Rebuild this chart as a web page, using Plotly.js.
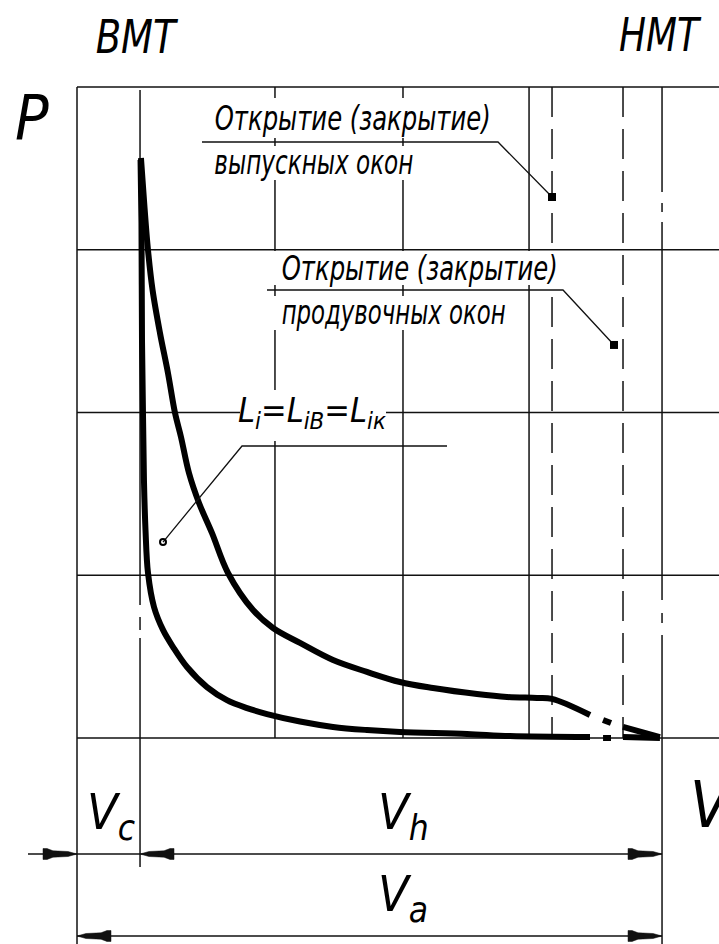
<!DOCTYPE html>
<html><head><meta charset="utf-8">
<script src="https://cdn.plot.ly/plotly-3.0.1.min.js"></script>
<style>html,body{margin:0;padding:0;background:#fff;}#chart{width:719px;height:944px;}</style>
</head><body><div id="chart"></div>
<script>
// ---------------- DATA (V in units of Vh/4, measured from V=0; P in grid units) ----------------
const expansionV = [0.490,0.517,0.544,0.579,0.636,0.697,0.751,0.797,0.858,0.935,1.034,1.157,1.349,1.502,1.709,1.962,2.222,2.475,2.728,3.065,3.295,3.525,3.640,3.931,null,4.031,4.092,null,4.184,4.467];
const expansionP = [3.564,3.263,2.998,2.753,2.488,2.243,1.997,1.849,1.628,1.444,1.260,1.014,0.786,0.676,0.584,0.479,0.406,0.344,0.307,0.270,0.252,0.246,0.240,0.141,null,0.111,0.092,null,0.068,0.006];
const compressionV = [0.487,0.494,0.498,0.506,0.513,0.525,0.544,0.590,0.659,0.736,0.843,0.996,1.149,1.303,1.456,1.709,1.962,2.222,2.475,2.989,3.318,3.931,null,4.031,4.092,null,4.184,4.467];
const compressionP = [3.551,3.164,2.445,1.972,1.585,1.278,1.014,0.805,0.664,0.559,0.436,0.313,0.233,0.184,0.147,0.101,0.068,0.049,0.037,0.025,0.012,0.006,null,0,0,null,0.006,0];

const V_BMT = 0.483;          // top dead centre (Vc)
const V_NMT = 4.483;          // bottom dead centre (Va)
const exhaustPortV = 3.640;   // exhaust ports open/close
const scavengePortV = 4.184;  // scavenge ports open/close
const gridV = [1.517, 2.498, 3.464];
const gridP = [1, 2, 3];
const P_TOP = 4;

const exhaustPoint = {V: 3.640, P: 3.324};
const scavengePoint = {V: 4.115, P: 2.415};
const workPoint = {V: 0.659, P: 1.204};

const labelTop = ["ВМТ", "НМТ"];
const labelExhaust = ["Открытие (закрытие)", "выпускных окон"];
const labelScavenge = ["Открытие (закрытие)", "продувочных окон"];
const labelWork = "L<sub>i</sub>=L<sub>iВ</sub>=L<sub>iк</sub>";
const labelVc = "V<sub>c</sub>", labelVh = "V<sub>h</sub>", labelVa = "V<sub>a</sub>";

// ---------------- LAYOUT GEOMETRY ----------------
const W = 719, H = 944;
const X0 = 77, KX = 130.5;   // pixel of V=0, px per unit
const Y0 = 738, KY = 162.75; // pixel of P=0, px per unit
const vx = px => (px - X0) / KX;
const py = p => (Y0 - p) / KY;
const XMIN = vx(0), XMAX = vx(W), YMIN = py(H), YMAX = py(0);

const INK = '#111';
const FONT = "'DejaVu Sans Condensed','Liberation Sans Narrow',sans-serif";

const shapes = [];
function seg(x0, y0, x1, y1, w, dash, layer) {
  shapes.push({type:'line', xref:'x', yref:'y', x0, y0, x1, y1, layer: layer || 'below',
    line:{color:INK, width:w || 1.5, dash: dash || 'solid'}});
}
// frame & grid
seg(0, P_TOP, XMAX, P_TOP);
seg(0, 0, XMAX, 0);
gridP.forEach(p => seg(0, p, XMAX, p));
seg(0, P_TOP, 0, YMIN);
gridV.forEach(v => seg(v, 0, v, P_TOP));
// port lines (dashed)
seg(exhaustPortV, P_TOP, exhaustPortV, 0, 1.5, '30px,12px');
seg(scavengePortV, P_TOP, scavengePortV, 0, 1.5, '30px,12px');
// centre lines BMT / NMT (long dash - short dash)
[[90,605],[617,630],[638,867]].forEach(s => seg(V_BMT, py(s[0]), V_BMT, py(s[1])));
[[87,192],[203,212],[222,600],[613,623],[635,944]].forEach(s => seg(V_NMT, py(s[0]), V_NMT, py(s[1])));
// white masks behind text
[[205,98,495,138],[205,146,420,180],[272,251,565,285],[272,296,512,330],[240,390,386,441]].forEach(r => {
  shapes.push({type:'rect', xref:'x', yref:'y', x0:vx(r[0]), x1:vx(r[2]), y0:py(r[1]), y1:py(r[3]),
    fillcolor:'#fff', line:{width:0}, layer:'below'});
});
// dimension lines
const yVh = py(854), yVa = py(936);
seg(vx(28), yVh, V_NMT, yVh, 1.5, 'solid', 'above');
seg(0, yVa, V_NMT, yVa, 1.5, 'solid', 'above');
function arrow(v, p, dir) {
  const pts = [[0,0],[-9,-2.5],[-24,-3.2],[-30,-5.5],[-34,-5.5],[-34,5.5],[-30,5.5],[-24,3.2],[-9,2.5]];
  const tx = X0 + v*KX, ty = Y0 - p*KY;
  const d = pts.map((q,i) => (i ? 'L' : 'M') + vx(tx + q[0]*dir) + ',' + py(ty + q[1])).join(' ') + ' Z';
  shapes.push({type:'path', xref:'x', yref:'y', path:d, fillcolor:INK, line:{color:INK, width:0.5}, layer:'above'});
}
arrow(0, yVh, 1); arrow(V_BMT, yVh, -1); arrow(V_NMT, yVh, 1);
arrow(0, yVa, -1); arrow(V_NMT, yVa, 1);

// ---------------- TRACES ----------------
const curveLine = {color:'#000', width:6, shape:'spline', smoothing:1};
const traces = [
  {x:expansionV, y:expansionP, mode:'lines', line:curveLine, connectgaps:false, hoverinfo:'skip'},
  {x:compressionV, y:compressionP, mode:'lines', line:curveLine, connectgaps:false, hoverinfo:'skip'},
  // leader lines
  {x:[vx(202), vx(498), exhaustPoint.V], y:[py(142), py(142), exhaustPoint.P], mode:'lines', line:{color:INK, width:1.3}, hoverinfo:'skip'},
  {x:[vx(267), vx(563), scavengePoint.V], y:[py(290), py(290), scavengePoint.P], mode:'lines', line:{color:INK, width:1.3}, hoverinfo:'skip'},
  {x:[vx(447), vx(242), workPoint.V], y:[py(446), py(446), workPoint.P], mode:'lines', line:{color:INK, width:1.3}, hoverinfo:'skip'},
  {x:[exhaustPoint.V, scavengePoint.V], y:[exhaustPoint.P, scavengePoint.P], mode:'markers',
   marker:{symbol:'square', size:8, color:'#000'}, hoverinfo:'skip'},
  {x:[workPoint.V], y:[workPoint.P], mode:'markers',
   marker:{symbol:'circle-open', size:6, color:'#000', line:{width:2, color:'#000'}}, hoverinfo:'skip'}
];

// ---------------- TEXT ----------------
// [text, centre x px, centre y px, font size, target width px (0 = natural)]
const textSpecs = [
  [labelTop[0], 137, 37, 46, 80],
  [labelTop[1], 660, 35, 46, 80],
  ['P', 32, 117, 62, 0],
  ['V', 711, 805, 64, 0],
  [labelVc, 111, 815, 50, 0],
  [labelVh, 403, 815, 50, 0],
  [labelVa, 403, 897, 50, 0],
  [labelWork, 312, 412, 34, 0],
  [labelExhaust[0], 352, 118, 33, 276],
  [labelExhaust[1], 314, 162, 33, 199],
  [labelScavenge[0], 419, 268, 33, 276],
  [labelScavenge[1], 393, 312, 33, 224]
];
const annotations = textSpecs.map(s => ({
  text:s[0], x:vx(s[1]), y:py(s[2]), xref:'x', yref:'y', showarrow:false,
  xanchor:'center', yanchor:'middle',
  font:{family:FONT, size:s[3], color:'#000', style:'italic'}
}));

const layout = {
  width:W, height:H, margin:{l:0, r:0, t:0, b:0},
  paper_bgcolor:'#fff', plot_bgcolor:'#fff', showlegend:false,
  xaxis:{range:[XMIN, XMAX], visible:false, showgrid:false, zeroline:false, fixedrange:true},
  yaxis:{range:[YMIN, YMAX], visible:false, showgrid:false, zeroline:false, fixedrange:true},
  shapes, annotations
};
Plotly.newPlot('chart', traces, layout, {staticPlot:true, displayModeBar:false}).then(gd => {
  // condense the drawing-style lettering to the widths of the reference
  textSpecs.forEach((s, i) => {
    if (!s[4]) return;
    const t = gd.querySelector('g.annotation[data-index="' + i + '"] text.annotation-text');
    if (t) { t.setAttribute('textLength', s[4]); t.setAttribute('lengthAdjust', 'spacingAndGlyphs'); }
  });
});
</script></body></html>
